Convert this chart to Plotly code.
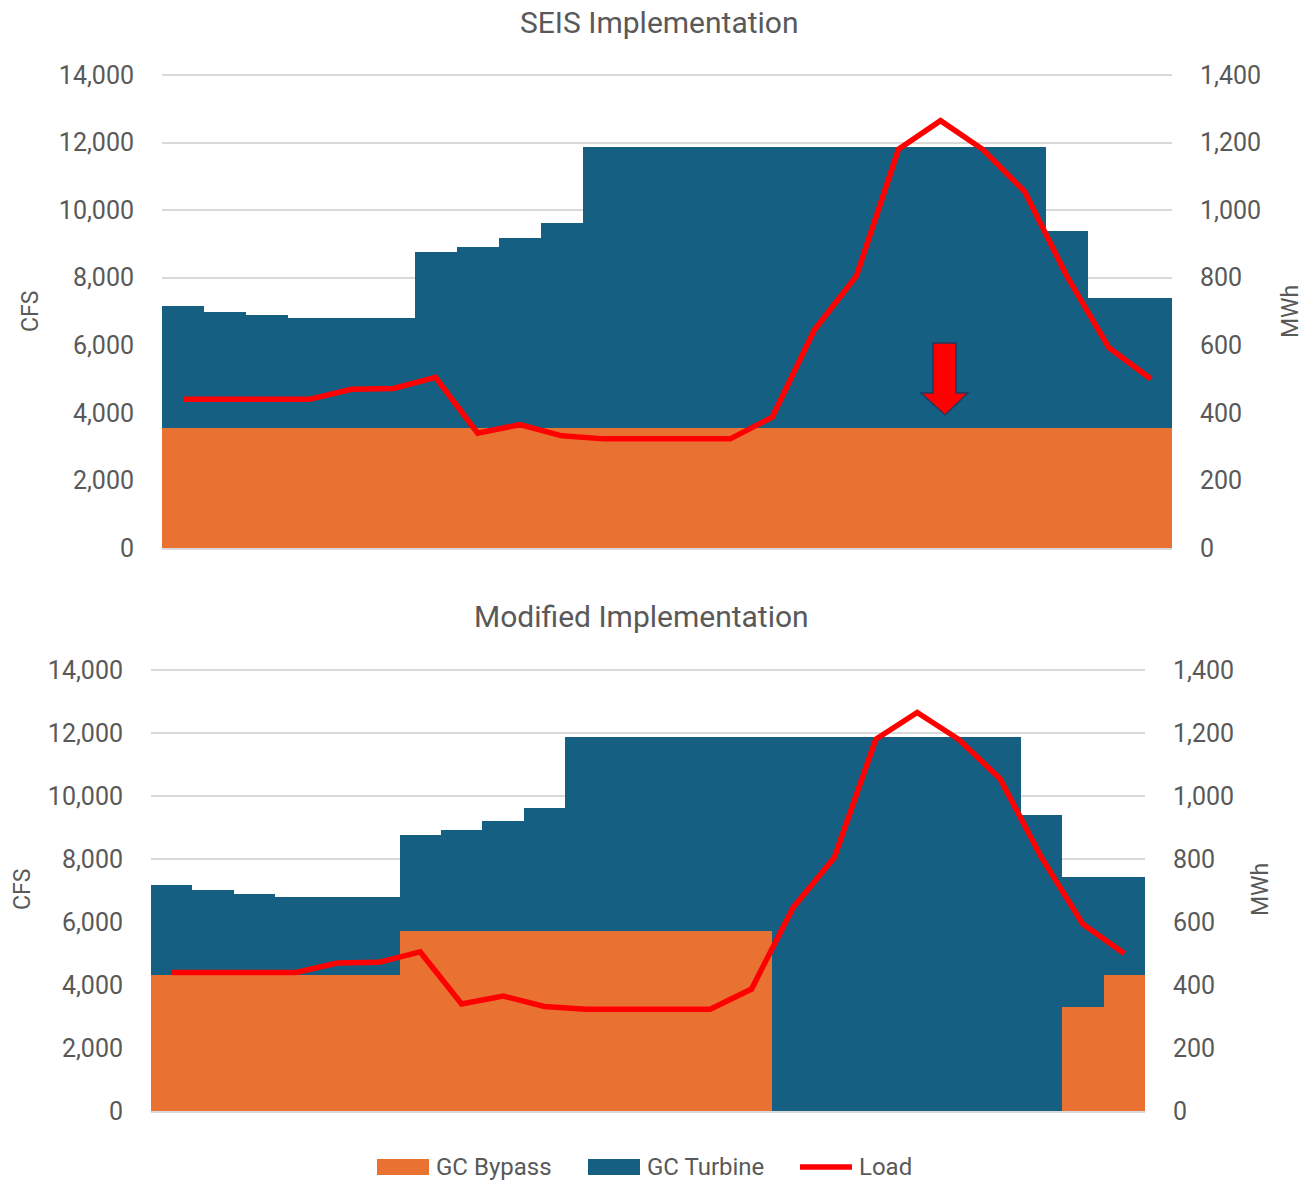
import plotly.graph_objects as go

# hourly values (24 hours)
hours = list(range(1, 25))

seis_bypass = [3550, 3550, 3550, 3550, 3550, 3550, 3550, 3550, 3550, 3550, 3550, 3550,
               3550, 3550, 3550, 3550, 3550, 3550, 3550, 3550, 3550, 3550, 3550, 3550]
seis_turbine = [3620, 3450, 3340, 3250, 3250, 3250, 5220, 5370, 5640, 6070, 8330, 8330,
                8330, 8330, 8330, 8330, 8330, 8330, 8330, 8330, 8330, 5840, 3860, 3860]

mod_bypass = [4300, 4300, 4300, 4300, 4300, 4300, 5710, 5710, 5710, 5710, 5710, 5710,
              5710, 5710, 5710, 0, 0, 0, 0, 0, 0, 0, 3310, 4300]
mod_turbine = [2870, 2700, 2590, 2500, 2500, 2500, 3060, 3210, 3480, 3910, 6170, 6170,
               6170, 6170, 6170, 11880, 11880, 11880, 11880, 11880, 11880, 9390, 4100, 3110]

load_mwh = [440, 440, 440, 440, 470, 472, 505, 340, 365, 332, 323, 323,
            323, 323, 387, 645, 805, 1180, 1265, 1180, 1055, 805, 593, 500]

series_names = ["GC Bypass", "GC Turbine", "Load"]

ORANGE = "#E97132"
BLUE = "#156082"
RED = "#FF0000"
GRID = "#D9D9D9"
TXT = "#595959"
FONT = "Roboto"

W, H = 1316, 1181

# a little headroom over 14,000 so plotly keeps the top gridline
CFS_MAX = 14000
CFS_TOP = 14060
MWH_TOP = CFS_TOP / 10


def px(x, y):
    # pixel position -> paper coords (margins are 0)
    return x / W, 1 - y / H


def ydomain(zero_px, top_tick_px):
    # domain so that 0 and 14,000 sit on the given pixel rows
    span = (zero_px - top_tick_px) * CFS_TOP / CFS_MAX
    return [1 - zero_px / H, 1 - (zero_px - span) / H]


fig = go.Figure()

# top panel
fig.add_bar(x=hours, y=seis_bypass, name=series_names[0], marker=dict(color=ORANGE, line_width=0),
            xaxis="x", yaxis="y")
fig.add_bar(x=hours, y=seis_turbine, name=series_names[1], marker=dict(color=BLUE, line_width=0),
            xaxis="x", yaxis="y")
fig.add_scatter(x=hours, y=load_mwh, name=series_names[2], mode="lines",
                line=dict(color=RED, width=5.5), xaxis="x", yaxis="y3")

# bottom panel
fig.add_bar(x=hours, y=mod_bypass, name=series_names[0], marker=dict(color=ORANGE, line_width=0),
            xaxis="x2", yaxis="y2")
fig.add_bar(x=hours, y=mod_turbine, name=series_names[1], marker=dict(color=BLUE, line_width=0),
            xaxis="x2", yaxis="y2")
fig.add_scatter(x=hours, y=load_mwh, name=series_names[2], mode="lines",
                line=dict(color=RED, width=5.5), xaxis="x2", yaxis="y4")

tick_font = dict(family=FONT, size=25, color=TXT)

xcommon = dict(range=[0.5, 24.5], showticklabels=False, showgrid=False, zeroline=False,
               showline=True, linecolor=GRID, linewidth=2, ticks="", automargin=False)
ycommon = dict(range=[0, CFS_TOP], dtick=2000, tickformat=",", showgrid=True, gridcolor=GRID,
               gridwidth=2, zeroline=False, tickfont=tick_font, ticks="", ticklabelstandoff=27,
               automargin=False)
y2common = dict(range=[0, MWH_TOP], dtick=200, tickformat=",", showgrid=False, zeroline=False,
                side="right", tickfont=tick_font, ticks="", ticklabelstandoff=27, automargin=False)

fig.update_layout(
    width=W, height=H,
    margin=dict(l=0, r=0, t=0, b=0, autoexpand=False),
    paper_bgcolor="white", plot_bgcolor="white",
    barmode="stack", bargap=0,
    font=dict(family=FONT, color=TXT),
    xaxis=dict(xcommon, domain=[162 / W, 1172 / W], anchor="y"),
    yaxis=dict(ycommon, domain=ydomain(548, 75), anchor="x"),
    yaxis3=dict(y2common, overlaying="y", anchor="x"),
    xaxis2=dict(xcommon, domain=[151 / W, 1145 / W], anchor="y2"),
    yaxis2=dict(ycommon, domain=ydomain(1111, 670), anchor="x2"),
    yaxis4=dict(y2common, overlaying="y2", anchor="x2"),
    showlegend=False,
)

# titles and axis titles
notes = [
    ("SEIS Implementation", 659, 22, 0, 30),
    ("Modified Implementation", 641, 616, 0, 30),
    ("CFS", 30, 312, -90, 23),
    ("MWh", 1290, 312, -90, 23),
    ("CFS", 22, 890, -90, 23),
    ("MWh", 1260, 890, -90, 23),
]
for text, x, y, ang, size in notes:
    ax, ay = px(x, y)
    fig.add_annotation(text=text, x=ax, y=ay, xref="paper", yref="paper", showarrow=False,
                       textangle=ang, xanchor="center", yanchor="middle",
                       font=dict(family=FONT, size=size, color=TXT))

# legend keys drawn wide like the original (bar keys as rectangles, line key as a stroke)
key_y = 1167
keys = [(series_names[0], ORANGE, 377, "rect"), (series_names[1], BLUE, 588, "rect"),
        (series_names[2], RED, 800, "line")]
for name, color, x0, kind in keys:
    if kind == "rect":
        a0, b0 = px(x0, key_y - 8)
        a1, b1 = px(x0 + 52, key_y + 8)
        fig.add_shape(type="rect", x0=a0, x1=a1, y0=b1, y1=b0, xref="paper", yref="paper",
                      fillcolor=color, line_width=0)
    else:
        a0, b0 = px(x0, key_y)
        a1, _ = px(x0 + 52, key_y)
        fig.add_shape(type="line", x0=a0, x1=a1, y0=b0, y1=b0, xref="paper", yref="paper",
                      line=dict(color=color, width=5.5))
    tx, ty = px(x0 + 57, key_y)
    fig.add_annotation(text=name, x=tx, y=ty, xref="paper", yref="paper", showarrow=False,
                       xanchor="left", yanchor="middle",
                       font=dict(family=FONT, size=24, color=TXT))

# red down arrow on the top panel
arrow_px = [(933, 343), (956, 343), (956, 393), (968, 393), (945, 415), (921, 393), (933, 393)]
pts = [px(x, y) for x, y in arrow_px]
path = "M " + " L ".join(f"{x:.5f},{y:.5f}" for x, y in pts) + " Z"
fig.add_shape(type="path", path=path, xref="paper", yref="paper",
              fillcolor=RED, line=dict(color="#1F3A5F", width=1.5))

fig.write_html("out.html", config={"displayModeBar": False},
               post_script="document.body.style.margin='0';document.body.style.overflow='hidden';")
